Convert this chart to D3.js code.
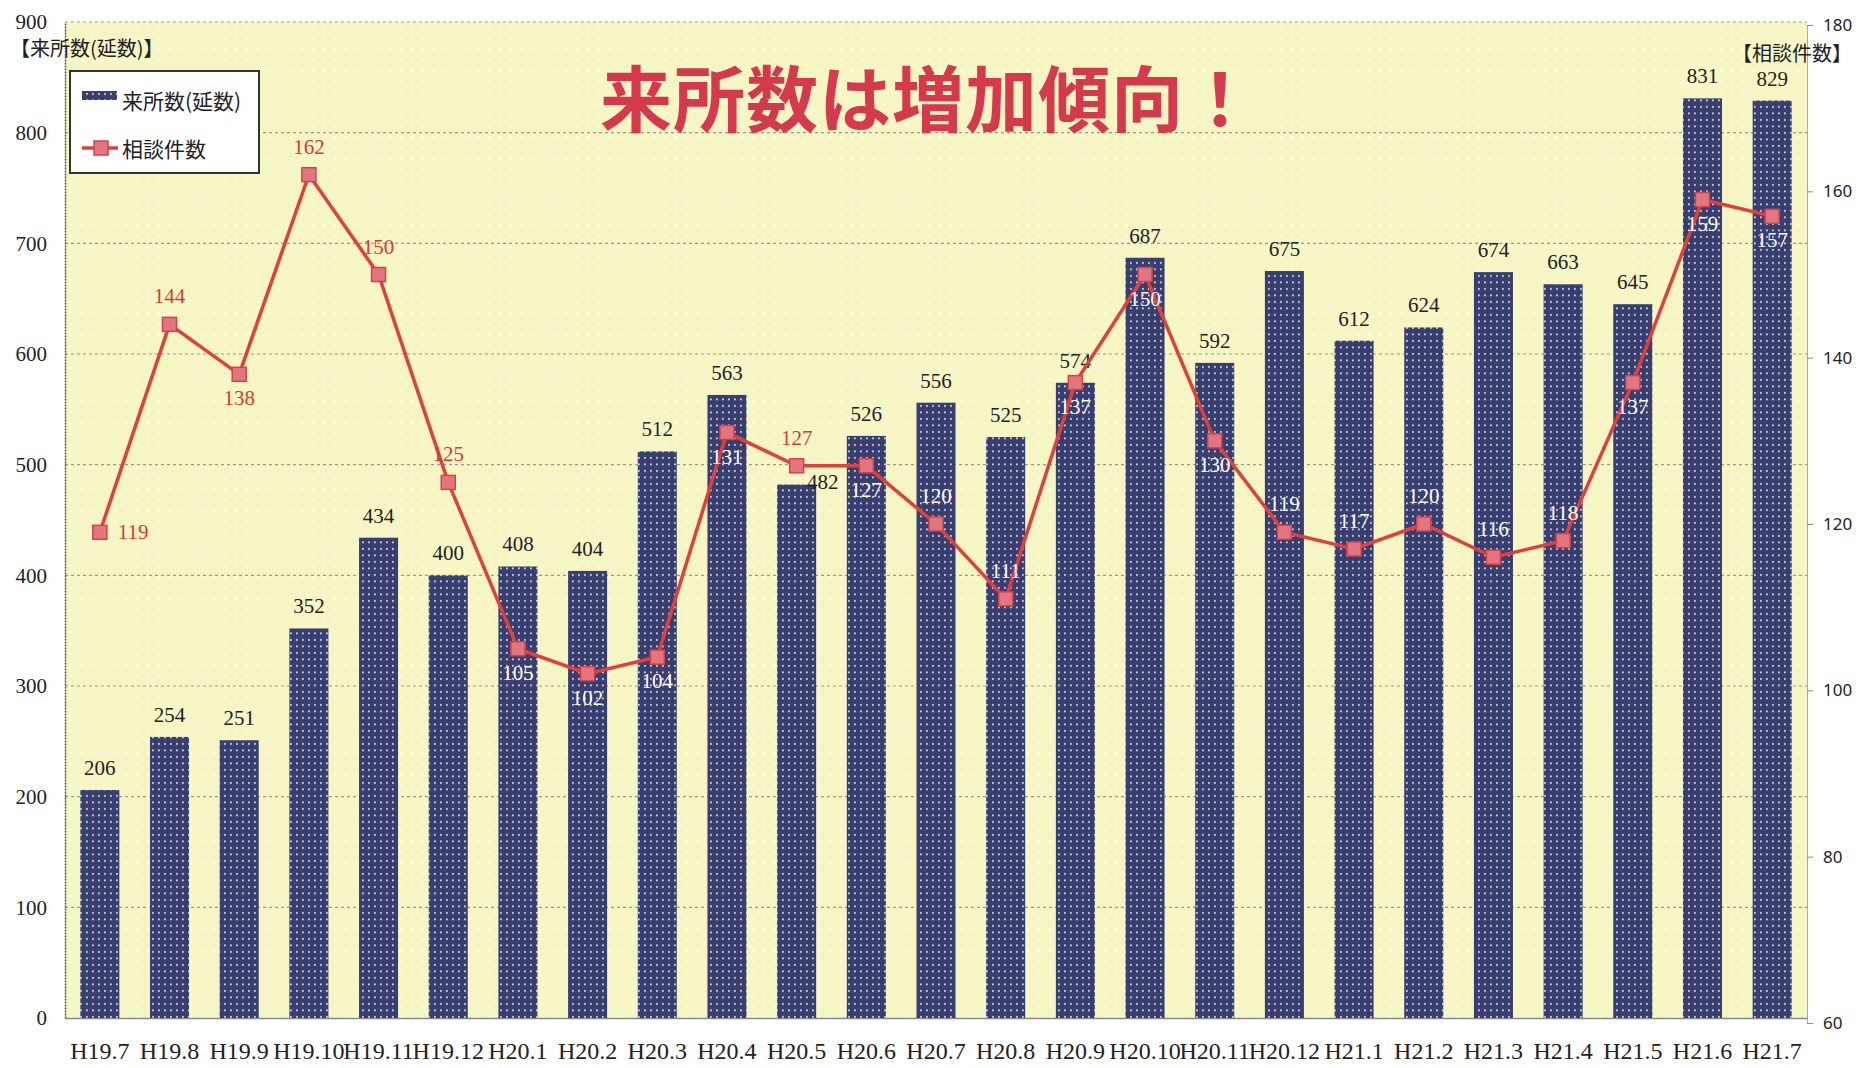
<!DOCTYPE html>
<html lang="ja">
<head>
<meta charset="UTF-8">
<title>来所数は増加傾向！</title>
<script src="https://d3js.org/d3.v7.min.js"></script>
<style>
  body { margin: 0; background: #fff; }
  svg { display: block; }
  .num { font-family: "Liberation Serif", "DejaVu Serif", serif; }
  .jp { font-family: "Noto Sans CJK JP", "Noto Sans", sans-serif; }
</style>
</head>
<body>
<div id="chart"></div>
<script>
// 月（平成）
var categories = ["H19.7", "H19.8", "H19.9", "H19.10", "H19.11", "H19.12",
  "H20.1", "H20.2", "H20.3", "H20.4", "H20.5", "H20.6", "H20.7", "H20.8",
  "H20.9", "H20.10", "H20.11", "H20.12", "H21.1", "H21.2", "H21.3", "H21.4",
  "H21.5", "H21.6", "H21.7"];

// 来所数（延数）- 棒
var visits = [206, 254, 251, 352, 434, 400, 408, 404, 512, 563, 482, 526, 556,
  525, 574, 687, 592, 675, 612, 624, 674, 663, 645, 831, 829];

// 相談件数 - 折れ線
var consults = [119, 144, 138, 162, 150, 125, 105, 102, 104, 131, 127, 127, 120,
  111, 137, 150, 130, 119, 117, 120, 116, 118, 137, 159, 157];

// 目盛り
var leftTicks = [0, 100, 200, 300, 400, 500, 600, 700, 800, 900];
var rightTicks = [60, 80, 100, 120, 140, 160, 180];

// 折れ線ラベルの置き場所
var lineLabelPlace = ["right", "above", "below", "above", "above", "above",
  "below", "below", "below", "below", "above", "below", "above", "above",
  "below", "below", "below", "above", "above", "above", "above", "above",
  "below", "below", "below"];

var W = 1864, H = 1068;
var plot = { left: 65, right: 1807, top: 22, bottom: 1018 };

var svg = d3.select("#chart").append("svg")
  .attr("width", W)
  .attr("height", H);

var defs = svg.append("defs");

// 棒の白い点々
var pBar = defs.append("pattern")
  .attr("id", "barDots")
  .attr("patternUnits", "userSpaceOnUse")
  .attr("width", 6).attr("height", 6.5);
pBar.append("rect").attr("width", 6).attr("height", 6.5).attr("fill", "#383e6e");
pBar.append("rect").attr("x", 2).attr("y", 2).attr("width", 1.8).attr("height", 1.8)
  .attr("fill", "#d2d6ee");

// 背景の薄い点々
var pBg = defs.append("pattern")
  .attr("id", "bgDots")
  .attr("patternUnits", "userSpaceOnUse")
  .attr("width", 11).attr("height", 11);
pBg.append("rect").attr("width", 11).attr("height", 11).attr("fill", "#f6f6c5");
pBg.append("circle").attr("cx", 5).attr("cy", 5).attr("r", 1.1)
  .attr("fill", "#ffffff").attr("opacity", 0.8);

var x = d3.scaleBand()
  .domain(categories)
  .range([plot.left, plot.right])
  .paddingInner(0.44)
  .paddingOuter(0.22);

var yL = d3.scaleLinear().domain([0, 900]).range([plot.bottom, plot.top]);
var yR = d3.scaleLinear().domain([60, 180]).range([1023, 25]);

// 背景
svg.append("rect")
  .attr("x", plot.left).attr("y", plot.top)
  .attr("width", plot.right - plot.left)
  .attr("height", plot.bottom - plot.top)
  .attr("fill", "url(#bgDots)");

// グリッド
svg.append("g")
  .selectAll("line")
  .data(leftTicks.filter(d => d > 0))
  .enter().append("line")
  .attr("x1", plot.left).attr("x2", plot.right)
  .attr("y1", d => yL(d)).attr("y2", d => yL(d))
  .attr("stroke", "#9a9a8a")
  .attr("stroke-width", 1.2)
  .attr("stroke-dasharray", "3,3");

// 左軸
var axL = svg.append("g")
  .attr("transform", "translate(" + plot.left + ",0)")
  .call(d3.axisLeft(yL).tickValues(leftTicks).tickSize(0).tickPadding(18));
axL.select(".domain").attr("stroke", "#555").attr("stroke-width", 1.5)
  .attr("stroke-dasharray", "2,1");
axL.selectAll("text").attr("class", "num").style("font-size", "21px")
  .attr("fill", "#222");

// 右軸
var axR = svg.append("g")
  .attr("transform", "translate(" + plot.right + ",0)")
  .call(d3.axisRight(yR).tickValues(rightTicks).tickSize(6).tickPadding(10));
axR.select(".domain").attr("stroke", "#aaa");
axR.selectAll(".tick line").attr("stroke", "#888");
axR.selectAll("text").style("font-family", "'Noto Sans', 'Liberation Sans', sans-serif")
  .style("font-size", "17px").attr("fill", "#222");

// 下軸
var axB = svg.append("g")
  .attr("transform", "translate(0," + plot.bottom + ")")
  .call(d3.axisBottom(x).tickSize(0).tickPadding(24));
axB.select(".domain").attr("stroke", "#888").attr("stroke-width", 1.5);
axB.selectAll("text").attr("class", "num").style("font-size", "24px")
  .attr("fill", "#222");

// 棒
svg.append("g")
  .selectAll("rect")
  .data(visits)
  .enter().append("rect")
  .attr("x", (d, i) => x(categories[i]))
  .attr("y", d => yL(d))
  .attr("width", x.bandwidth())
  .attr("height", d => yL(0) - yL(d))
  .attr("fill", "url(#barDots)");

// 棒の値
svg.append("g")
  .selectAll("text")
  .data(visits)
  .enter().append("text")
  .attr("class", "num")
  .attr("x", (d, i) => x(categories[i]) + x.bandwidth() / 2 + (i === 10 ? 26 : 0))
  .attr("y", (d, i) => yL(d) + (i === 10 ? 4 : -15))
  .attr("text-anchor", "middle")
  .style("font-size", "21px")
  .attr("fill", "#222")
  .text(d => d);

// 折れ線
var cx = (d, i) => x(categories[i]) + x.bandwidth() / 2;
var line = d3.line()
  .x((d, i) => cx(d, i))
  .y(d => yR(d));

svg.append("path")
  .datum(consults)
  .attr("d", line)
  .attr("fill", "none")
  .attr("stroke", "#e0403c")
  .attr("stroke-width", 3.5);

svg.append("g")
  .selectAll("rect")
  .data(consults)
  .enter().append("rect")
  .attr("x", (d, i) => cx(d, i) - 7)
  .attr("y", d => yR(d) - 7)
  .attr("width", 14).attr("height", 14)
  .attr("fill", "#e27680")
  .attr("stroke", "#d84048")
  .attr("stroke-width", 1.5);

// 折れ線の値（棒の上に重なるものは白）
svg.append("g")
  .selectAll("text")
  .data(consults)
  .enter().append("text")
  .attr("class", "num")
  .each(function(d, i) {
    var place = lineLabelPlace[i];
    var px = cx(d, i), py = yR(d);
    var tx = px, ty, anchor = "middle";
    if (place === "right") { tx = px + 18; ty = py + 7; anchor = "start"; }
    else if (place === "above") { ty = py - 21; }
    else { ty = py + 31; }
    var inside = (ty - 7) > yL(visits[i]);
    d3.select(this)
      .attr("x", tx).attr("y", ty)
      .attr("text-anchor", anchor)
      .attr("fill", inside ? "#ffffff" : "#d63a36");
  })
  .style("font-size", "21px")
  .text(d => d);

// 軸タイトル
svg.append("text")
  .attr("class", "jp")
  .attr("x", 10).attr("y", 56)
  .style("font-size", "20px")
  .attr("fill", "#222")
  .text("【来所数(延数)】");

svg.append("text")
  .attr("class", "jp")
  .attr("x", 1852).attr("y", 61)
  .attr("text-anchor", "end")
  .style("font-size", "20px")
  .attr("fill", "#222")
  .text("【相談件数】");

// 凡例
var lg = svg.append("g");
lg.append("rect")
  .attr("x", 70).attr("y", 71)
  .attr("width", 189).attr("height", 102)
  .attr("fill", "#fff")
  .attr("stroke", "#333")
  .attr("stroke-width", 2);
lg.append("rect")
  .attr("x", 82).attr("y", 91)
  .attr("width", 35).attr("height", 9)
  .attr("fill", "url(#barDots)");
lg.append("text")
  .attr("class", "jp")
  .attr("x", 122).attr("y", 109)
  .style("font-size", "21px")
  .attr("fill", "#222")
  .text("来所数(延数)");
lg.append("line")
  .attr("x1", 82).attr("x2", 118)
  .attr("y1", 148).attr("y2", 148)
  .attr("stroke", "#e0403c").attr("stroke-width", 3.5);
lg.append("rect")
  .attr("x", 94).attr("y", 141)
  .attr("width", 14).attr("height", 14)
  .attr("fill", "#e27680")
  .attr("stroke", "#d84048")
  .attr("stroke-width", 1.5);
lg.append("text")
  .attr("class", "jp")
  .attr("x", 122).attr("y", 157)
  .style("font-size", "21px")
  .attr("fill", "#222")
  .text("相談件数");

// タイトル
svg.append("text")
  .attr("class", "jp")
  .attr("x", 600).attr("y", 126)
  .style("font-size", "72px")
  .style("font-weight", "bold")
  .style("letter-spacing", "1px")
  .attr("fill", "#d43a4c")
  .text("来所数は増加傾向！");
</script>
</body>
</html>
